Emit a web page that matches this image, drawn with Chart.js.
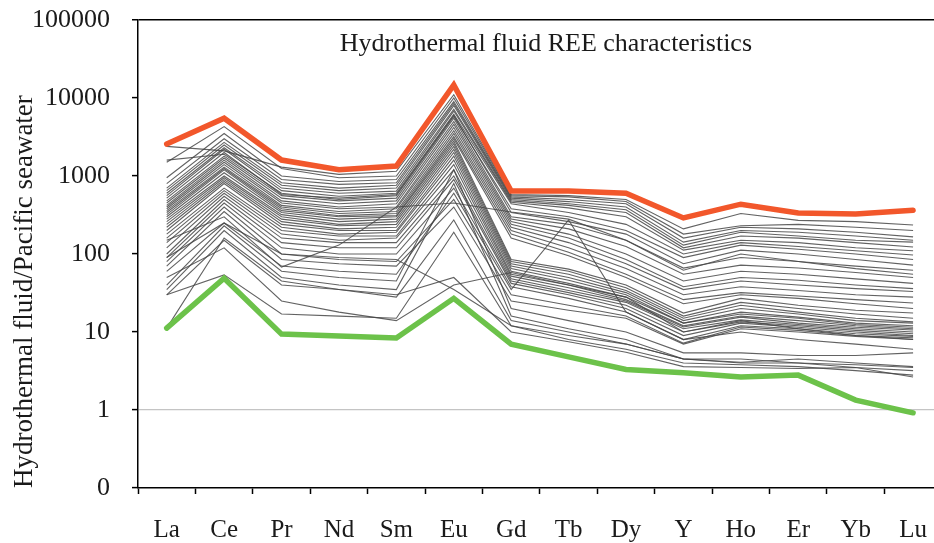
<!DOCTYPE html>
<html>
<head>
<meta charset="utf-8">
<script src="https://cdn.jsdelivr.net/npm/chart.js@4.4.0/dist/chart.umd.min.js"></script>
<style>
  html, body { margin: 0; padding: 0; background: #fff; overflow: hidden; }
  #wrap { width: 934px; height: 543px; overflow: hidden; }
</style>
</head>
<body>
<div id="wrap"><canvas id="ree-chart" width="948" height="543"></canvas></div>
<script>
// REE patterns, normalised to Pacific seawater

const elements = ['La', 'Ce', 'Pr', 'Nd', 'Sm', 'Eu', 'Gd', 'Tb', 'Dy', 'Y', 'Ho', 'Er', 'Yb', 'Lu'];

const chartTitle = 'Hydrothermal fluid REE characteristics';
const yAxisTitle = 'Hydrothermal fluid/Pacific seawater';

const yTickValues = [0.1, 1, 10, 100, 1000, 10000, 100000];
const yTickLabels = ['0', '1', '10', '100', '1000', '10000', '100000'];

// highest and lowest fluids (thick lines)
const maxFluid = [2570, 5500, 1600, 1200, 1340, 14700, 640, 640, 600, 290, 435, 335, 325, 365];
const minFluid = [11.2, 49, 9.4, 8.9, 8.4, 27, 7.0, 4.8, 3.3, 3.0, 2.65, 2.8, 1.34, 0.92];

// the other vent fluids (thin grey lines)
const fluidSamples = [
    [2400, 2100, 1300, 1050, 1150, 11000, 580, 560, 500, 210, 330, 270, 260, 235],
    [1500, 4300, 1250, 950, 1000, 10000, 560, 540, 470, 180, 230, 240, 220, 200],
    [950, 3500, 1000, 850, 900, 9000, 540, 500, 440, 160, 220, 210, 190, 166],
    [800, 3000, 900, 780, 820, 8500, 520, 470, 400, 142, 200, 190, 170, 150],
    [700, 2700, 820, 700, 760, 8000, 500, 440, 370, 130, 190, 170, 150, 142],
    [650, 2500, 760, 650, 700, 7200, 480, 420, 340, 120, 170, 160, 140, 123],
    [600, 2300, 700, 600, 640, 6800, 460, 390, 300, 112, 150, 140, 120, 110],
    [560, 2200, 650, 550, 600, 6200, 440, 340, 240, 100, 140, 125, 110, 97],
    [1600, 1900, 600, 500, 560, 5800, 380, 300, 200, 90, 130, 115, 100, 85],
    [520, 2000, 580, 520, 580, 6000, 340, 260, 180, 75, 112, 100, 85, 72],
    [480, 1800, 560, 480, 520, 5500, 300, 240, 150, 66, 90, 80, 70, 62],
    [450, 1700, 520, 440, 480, 5000, 280, 210, 125, 55, 72, 66, 58, 50],
    [420, 1600, 480, 400, 440, 4600, 260, 180, 100, 45, 60, 55, 48, 42],
    [400, 1500, 450, 380, 400, 4200, 240, 160, 85, 38, 50, 46, 40, 36],
    [380, 1400, 420, 350, 380, 3800, 220, 140, 75, 35, 45, 40, 36, 33],
    [360, 1300, 400, 330, 350, 3500, 200, 120, 65, 30, 38, 34, 30, 28],
    [340, 1250, 380, 310, 330, 3200, 180, 105, 55, 26, 32, 29, 26, 23.5],
    [320, 1200, 360, 300, 310, 3000, 160, 95, 50, 23, 30, 27, 23, 20],
    [300, 1100, 340, 280, 300, 2800, 85, 64, 40, 17.5, 27, 22, 19, 17.5],
    [280, 1000, 320, 260, 280, 2600, 80, 60, 37, 16, 24, 20, 17, 15],
    [260, 950, 300, 240, 260, 2400, 75, 55, 34, 15, 22, 18, 15, 13.5],
    [240, 900, 280, 230, 240, 2200, 70, 50, 32, 14, 20, 17, 14, 13],
    [220, 850, 260, 210, 220, 2000, 65, 46, 30, 13, 18, 15.5, 13, 12],
    [200, 800, 240, 200, 200, 1800, 60, 42, 28, 13, 17, 15, 12.5, 11.5],
    [180, 700, 220, 180, 190, 1600, 55, 40, 26, 12, 16, 14, 12, 11],
    [160, 650, 200, 170, 170, 1400, 52, 37, 25, 11.6, 15.5, 13, 11.5, 10.6],
    [140, 600, 180, 150, 160, 1200, 48, 34, 24, 11, 14.3, 12.5, 11, 10],
    [120, 550, 160, 140, 140, 1000, 45, 32, 22, 10, 13.5, 12, 10.5, 9.5],
    [100, 500, 140, 120, 120, 900, 42, 30, 20, 9, 13, 11.5, 10, 9],
    [90, 450, 120, 100, 100, 700, 38, 27, 18, 8, 12, 11, 9.5, 8.8],
    [80, 400, 100, 85, 80, 500, 30, 22, 16, 7.2, 11.6, 10.5, 9, 8.4],
    [70, 350, 85, 75, 70, 400, 25, 19, 15, 7, 11, 10, 8.8, 8],
    [40, 230, 60, 50, 45, 1200, 20, 14, 10, 5.4, 5.4, 5, 5, 5.4],
    [35, 200, 50, 40, 35, 800, 16, 11, 8, 4.5, 4.1, 4.5, 4, 3.6],
    [30, 150, 40, 35, 28, 273, 14, 10, 7, 4.5, 4.5, 4, 3.5, 3.2],
    [30, 54, 17, 16, 15, 190, 12, 8, 6, 4, 3.8, 3.6, 3.2, 2.8],
    [11.2, 160, 45, 35, 30, 50, 10, 7.5, 5.5, 3.6, 3.5, 3.4, 3.5, 2.65],
    [60, 250, 70, 60, 55, 600, 35, 273, 18, 8, 10, 8, 7, 6],
    [150, 300, 68, 130, 400, 450, 345, 280, 150, 62, 100, 80, 65, 55],
    [50, 120, 25, 18, 14, 40, 58, 40, 28, 10, 14, 11, 9, 8],
    [90, 250, 100, 90, 85, 35, 12, 9, 7, 4.5, 4, 4, 3.8, 3.5]
];

const serif = "'Liberation Serif', 'DejaVu Serif', serif";

const datasets = fluidSamples.map((row, i) => ({
    label: 'fluid ' + (i + 1),
    data: row,
    borderColor: 'rgba(70,70,70,0.85)',
    borderWidth: 1.1,
    order: 1
}));
datasets.push({ label: 'max', data: maxFluid, borderColor: '#f2572b', borderWidth: 5.5, borderCapStyle: 'round', order: 0 });
datasets.push({ label: 'min', data: minFluid, borderColor: '#6cc24a', borderWidth: 5.5, borderCapStyle: 'round', order: 0 });

// title sits inside the plot area
const innerTitle = {
    id: 'innerTitle',
    afterDraw(chart) {
        const { ctx, chartArea } = chart;
        ctx.save();
        ctx.font = '26px ' + serif;
        ctx.fillStyle = '#1a1a1a';
        ctx.textAlign = 'center';
        ctx.textBaseline = 'middle';
        ctx.fillText(chartTitle, (chartArea.left + chartArea.right) / 2 + 6, chartArea.top + 24);
        ctx.restore();
    }
};

new Chart(
    document.getElementById('ree-chart'),
    {
        type: 'line',
        data: {
            labels: elements,
            datasets: datasets
        },
        options: {
            responsive: false,
            animation: false,
            layout: { padding: { top: 0, right: 1, left: 0, bottom: 0 } },
            elements: { point: { radius: 0 }, line: { tension: 0 } },
            plugins: {
                legend: { display: false },
                tooltip: { enabled: false }
            },
            scales: {
                x: {
                    offset: true,
                    grid: { offset: true, drawOnChartArea: false, tickLength: 6, tickColor: '#000', tickWidth: 1.5 },
                    border: { color: '#000', width: 1.5 },
                    ticks: { color: '#1a1a1a', font: { family: serif, size: 25 }, padding: 21, autoSkip: false, maxRotation: 0 },
                    afterFit: scale => { scale.height = 55; }
                },
                y: {
                    type: 'logarithmic',
                    min: 0.1,
                    max: 100000,
                    afterBuildTicks: scale => { scale.ticks = yTickValues.map(v => ({ value: v })); },
                    afterFit: scale => {
                        scale.width = 138;
                        scale.paddingTop = 20;
                        scale.paddingBottom = 0;
                    },
                    grid: {
                        color: ctx => ctx.tick && ctx.tick.value === 1 ? '#c4c4c4'
                            : (ctx.tick && ctx.tick.value === 100000 ? '#000' : 'rgba(0,0,0,0)'),
                        lineWidth: ctx => ctx.tick && ctx.tick.value === 100000 ? 1.5 : 1.2,
                        tickLength: 6,
                        tickColor: '#000',
                        tickWidth: 1.5
                    },
                    border: { color: '#000', width: 1.5 },
                    ticks: {
                        color: '#1a1a1a',
                        font: { family: serif, size: 26 },
                        padding: 22,
                        callback: (value, index) => yTickLabels[index]
                    },
                    title: {
                        display: true,
                        text: yAxisTitle,
                        align: 'start',
                        color: '#1a1a1a',
                        font: { family: serif, size: 27 },
                        padding: { top: 9, bottom: 0 }
                    }
                }
            }
        },
        plugins: [innerTitle]
    }
);
</script>
</body>
</html>
